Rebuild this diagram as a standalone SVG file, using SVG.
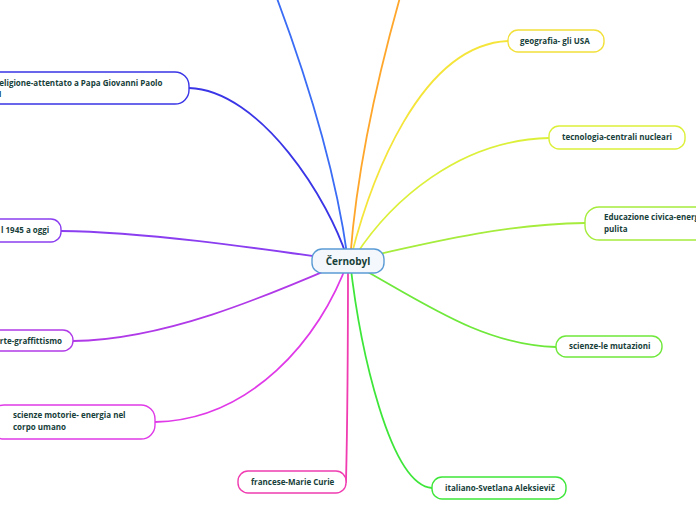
<svg xmlns="http://www.w3.org/2000/svg" width="696" height="520" viewBox="0 0 696 520">
<style>
.c{fill:none;stroke-width:1.8;stroke-linecap:round}
.b{fill:#ffffff;stroke-width:1.4}
.t{font-family:"Open Sans","Noto Sans",sans-serif;font-size:8px;font-weight:700;fill:#17403a}
</style>
<rect width="696" height="520" fill="#ffffff"/>
<g id="connectors">
<path class="c" stroke="#3a35e6" d="M348,261 C330,200 260,90 189,88"/>
<path class="c" stroke="#3a6cf5" d="M348,261 C340,200 320,110 270,-20"/>
<path class="c" stroke="#ffa62b" d="M350,261 C355,190 370,100 405,-20"/>
<path class="c" stroke="#f5e53a" d="M350,261 C370,180 420,45 508,41"/>
<path class="c" stroke="#dcf03a" d="M352,261 C390,200 460,140 549,138"/>
<path class="c" stroke="#a5ec3c" d="M348,261 C420,245 500,224 585,223"/>
<path class="c" stroke="#6ee83a" d="M348,261 C420,300 480,345 556,347"/>
<path class="c" stroke="#3ee63a" d="M350,261 C360,350 390,485 432,488"/>
<path class="c" stroke="#f03cb0" d="M348,261 C348,350 347,440 346,482"/>
<path class="c" stroke="#e03ae8" d="M348,261 C320,340 250,420 155,422"/>
<path class="c" stroke="#b03ae8" d="M348,261 C280,290 170,340 73,341"/>
<path class="c" stroke="#8a3ef0" d="M348,261 C270,250 150,232 61,231"/>
</g>
<g id="center">
<rect x="312" y="249" width="72" height="24" rx="10" fill="#f4f8fc" stroke="#5b9bd5" stroke-width="1.4"/>
<text x="348" y="265" text-anchor="middle" font-family="Open Sans, Noto Sans, sans-serif" font-size="10" font-weight="700" fill="#17403a">Černobyl</text>
</g>
<g id="religione">
<rect class="b" x="-20" y="72" width="209" height="32" rx="14" stroke="#3a35e6"/>
<text class="t" x="-6" y="86">Religione-attentato a Papa Giovanni Paolo</text>
<text class="t" x="-4" y="97">II</text>
</g>
<g id="geografia">
<rect class="b" x="508" y="30" width="96" height="22" rx="10" stroke="#f2e03a"/>
<text class="t" x="520" y="44">geografia- gli USA</text>
</g>
<g id="tecnologia">
<rect class="b" x="549" y="126" width="136" height="23" rx="10" stroke="#dcf03a"/>
<text class="t" x="562" y="140">tecnologia-centrali nucleari</text>
</g>
<g id="educazione">
<rect class="b" x="585" y="207" width="140" height="33" rx="14" stroke="#a5ec3c"/>
<text class="t" x="604" y="220">Educazione civica-energia</text>
<text class="t" x="604" y="232">pulita</text>
</g>
<g id="mutazioni">
<rect class="b" x="556" y="336" width="106" height="21" rx="10" stroke="#6ee83a"/>
<text class="t" x="569" y="349">scienze-le mutazioni</text>
</g>
<g id="italiano">
<rect class="b" x="432" y="477" width="134" height="22" rx="10" stroke="#3ee63a"/>
<text class="t" x="445" y="491">italiano-Svetlana Aleksievič</text>
</g>
<g id="francese">
<rect class="b" x="238" y="471" width="108" height="22" rx="10" stroke="#f03cb0"/>
<text class="t" x="251" y="485">francese-Marie Curie</text>
</g>
<g id="motorie">
<rect class="b" x="-10" y="405" width="165" height="34" rx="14" stroke="#e03ae8"/>
<text class="t" x="13" y="418">scienze motorie- energia nel</text>
<text class="t" x="13" y="430">corpo umano</text>
</g>
<g id="arte">
<rect class="b" x="-20" y="330" width="93" height="21" rx="10" stroke="#b03ae8"/>
<text class="t" x="-5" y="344">arte-graffittismo</text>
</g>
<g id="storia">
<rect class="b" x="-20" y="219" width="81" height="23" rx="10" stroke="#8a3ef0"/>
<text class="t" x="1" y="233">l 1945 a oggi</text>
</g>
</svg>
